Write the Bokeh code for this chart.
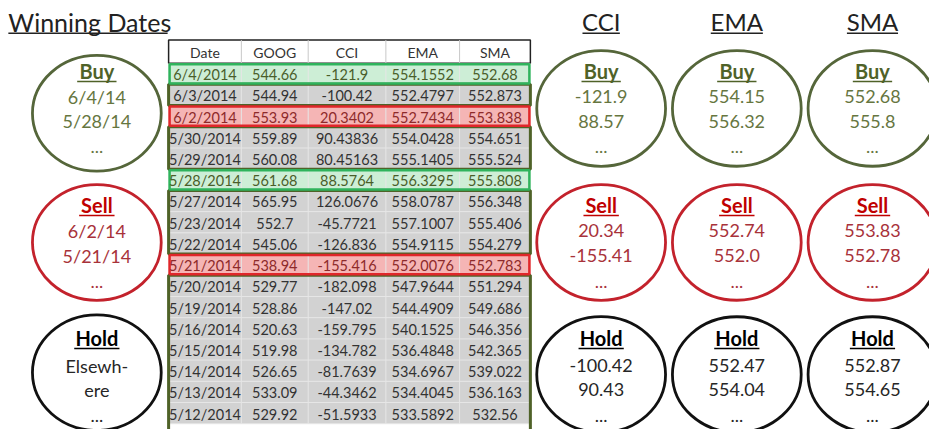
from bokeh.plotting import figure
from bokeh.models import Range1d
from bokeh.embed import file_html
from bokeh.resources import INLINE
from bokeh.core.properties import value

# ---------------- data ----------------
columns = ["Date", "GOOG", "CCI", "EMA", "SMA"]
dates = ["6/4/2014", "6/3/2014", "6/2/2014", "5/30/2014", "5/29/2014", "5/28/2014",
         "5/27/2014", "5/23/2014", "5/22/2014", "5/21/2014", "5/20/2014", "5/19/2014",
         "5/16/2014", "5/15/2014", "5/14/2014", "5/13/2014", "5/12/2014"]
goog = [544.66, 544.94, 553.93, 559.89, 560.08, 561.68, 565.95, 552.7, 545.06, 538.94,
        529.77, 528.86, 520.63, 519.98, 526.65, 533.09, 529.92]
cci = [-121.9, -100.42, 20.3402, 90.43836, 80.45163, 88.5764, 126.0676, -45.7721,
       -126.836, -155.416, -182.098, -147.02, -159.795, -134.782, -81.7639, -44.3462, -51.5933]
ema = [554.1552, 552.4797, 552.7434, 554.0428, 555.1405, 556.3295, 558.0787, 557.1007,
       554.9115, 552.0076, 547.9644, 544.4909, 540.1525, 536.4848, 534.6967, 534.4045, 533.5892]
sma = [552.68, 552.873, 553.838, 554.651, 555.524, 555.808, 556.348, 555.406, 554.279,
       552.783, 551.294, 549.686, 546.356, 542.365, 539.022, 536.163, 532.56]
signal = ["buy", "hold", "sell", "hold", "hold", "buy", "hold", "hold", "hold", "sell",
          "hold", "hold", "hold", "hold", "hold", "hold", "hold"]

title_left = "Winning Dates"
indicator_titles = ["CCI", "EMA", "SMA"]
circle_labels = ["Buy", "Sell", "Hold"]
winning_dates = [["6/4/14", "5/28/14"], ["6/2/14", "5/21/14"], ["Elsewh-", "ere"]]
cci_circles = [["-121.9", "88.57"], ["20.34", "-155.41"], ["-100.42", "90.43"]]
ema_circles = [["554.15", "556.32"], ["552.74", "552.0"], ["552.47", "554.04"]]
sma_circles = [["552.68", "555.8"], ["553.83", "552.78"], ["552.87", "554.65"]]

# ---------------- styles / layout ----------------
FONT = value("Lato")
col_edges = [171, 245, 313, 392, 467, 539]
head_top, head_bot, row_h = 41, 65, 22
grey_fill = "#d2d2d2"
olive = "#4f6228"
kind_style = {
    "buy": dict(fill="#cdeed6", line="#2fb35c", text="#4a5e2a"),
    "sell": dict(fill="#f5b5b5", line="#e0262a", text="#8e2a2a"),
    "hold": dict(fill=grey_fill, line=olive, text="#333333"),
}
circ_style = {
    "Buy": dict(line="#55663a", title="#4f6228", text="#66763f"),
    "Sell": dict(line="#c3222c", title="#c00000", text="#a8323a"),
    "Hold": dict(line="#111111", title="#000000", text="#262626"),
}

p = figure(width=929, height=429, x_range=Range1d(0, 945), y_range=Range1d(445, 0),
           output_backend="svg", toolbar_location=None, min_border=0,
           x_axis_location=None, y_axis_location=None)
p.grid.visible = False
p.outline_line_color = None
p.background_fill_color = "white"
p.border_fill_color = "white"

# ---------------- table ----------------
n = len(dates)
x0, x1 = col_edges[0], col_edges[-1]
tops = [head_bot + i * row_h for i in range(n)]
bots = [t + row_h for t in tops]

# header
p.quad(left=[x0], right=[x1], top=[head_top], bottom=[head_bot],
       fill_color="white", line_color="#222222", line_width=1.5)
p.segment(x0=col_edges[1:-1], x1=col_edges[1:-1], y0=[head_top] * 4, y1=[head_bot] * 4,
          line_color="#c8c8c8", line_width=1)
centers = [(col_edges[i] + col_edges[i + 1]) / 2 for i in range(5)]
p.text(x=centers, y=[(head_top + head_bot) / 2 + 1] * 5, text=columns,
       text_align="center", text_baseline="middle", text_font=FONT,
       text_font_size="14px", text_color="#333333")

# body fills
p.quad(left=[x0] * n, right=[x1] * n, top=tops, bottom=bots,
       fill_color=[kind_style[s]["fill"] for s in signal], line_color=None)
# inner grid lines
p.segment(x0=[x0] * n, x1=[x1] * n, y0=bots, y1=bots, line_color="#e6e6e6", line_width=1)
p.segment(x0=col_edges[1:-1], x1=col_edges[1:-1], y0=[head_bot] * 4, y1=[bots[-1]] * 4,
          line_color="#e6e6e6", line_width=1)

# olive frames around contiguous hold blocks
blocks = []
i = 0
while i < n:
    if signal[i] == "hold":
        j = i
        while j + 1 < n and signal[j + 1] == "hold":
            j += 1
        blocks.append((tops[i], bots[j] + (8 if j == n - 1 else 0)))
        i = j + 1
    else:
        i += 1
p.quad(left=[x0] * len(blocks), right=[x1] * len(blocks),
       top=[b[0] for b in blocks], bottom=[b[1] for b in blocks],
       fill_color=None, line_color=olive, line_width=3)

# highlighted rows
hi = [k for k in range(n) if signal[k] != "hold"]
p.quad(left=[x0 + 1] * len(hi), right=[x1 - 1] * len(hi),
       top=[tops[k] + 1 for k in hi], bottom=[bots[k] - 1 for k in hi],
       fill_color=None, line_color=[kind_style[signal[k]]["line"] for k in hi], line_width=2.5)

# body text
cols_data = [dates, [str(v) for v in goog], [str(v) for v in cci],
             [str(v) for v in ema], [str(v) for v in sma]]
tx, ty, tt, tc = [], [], [], []
for r in range(n):
    for c in range(5):
        tx.append(centers[c])
        ty.append((tops[r] + bots[r]) / 2 + 1)
        tt.append(cols_data[c][r])
        tc.append(kind_style[signal[r]]["text"])
p.text(x=tx, y=ty, text=tt, text_color=tc, text_align="center", text_baseline="middle",
       text_font=FONT, text_font_size="14.5px")

# ---------------- headings ----------------
p.text(x=[8], y=[22], text=[title_left], text_align="left", text_baseline="middle",
       text_font=FONT, text_font_size="25px", text_color="#222222")
p.segment(x0=[8], x1=[170], y0=[34], y1=[34], line_color="#222222", line_width=1.5)

ind_x = [611, 749, 887]
p.text(x=ind_x, y=[22] * 3, text=indicator_titles, text_align="center", text_baseline="middle",
       text_font=FONT, text_font_size="24px", text_color="#222222")
uw = [38, 53, 52]
p.segment(x0=[x - w / 2 for x, w in zip(ind_x, uw)], x1=[x + w / 2 for x, w in zip(ind_x, uw)],
          y0=[34] * 3, y1=[34] * 3, line_color="#222222", line_width=1.5)

# ---------------- circles ----------------
left_cy = [117, 251, 386]
right_cy = [112, 251, 388]
title_y = [73, 212, 350]
line1_y = [100, 239, 379]
line2_y = [125, 265, 404]
dots_y = [151, 291, 430]
title_uw = [40, 36, 46]

groups = [(98, left_cy, winning_dates)] + [
    (x, right_cy, d) for x, d in zip(ind_x, [cci_circles, ema_circles, sma_circles])]
for cx, cys, content in groups:
    for k, lab in enumerate(circle_labels):
        st = circ_style[lab]
        p.ellipse(x=[cx], y=[cys[k]], width=131, height=120, fill_color=None,
                  line_color=st["line"], line_width=2.8)
        p.text(x=[cx], y=[title_y[k]], text=[lab], text_align="center", text_baseline="middle",
               text_font=FONT, text_font_size="20px", text_font_style="bold", text_color=st["title"])
        p.segment(x0=[cx - title_uw[k] / 2], x1=[cx + title_uw[k] / 2],
                  y0=[title_y[k] + 11], y1=[title_y[k] + 11], line_color=st["title"], line_width=1.5)
        p.text(x=[cx, cx], y=[line1_y[k], line2_y[k]], text=content[k],
               text_align="center", text_baseline="middle", text_font=FONT,
               text_font_size="18px", text_color=st["text"])
        p.text(x=[cx], y=[dots_y[k]], text=["..."], text_align="center", text_baseline="middle",
               text_font=FONT, text_font_size="18px", text_color=st["text"])

open("out.html", "w").write(file_html(p, INLINE))
